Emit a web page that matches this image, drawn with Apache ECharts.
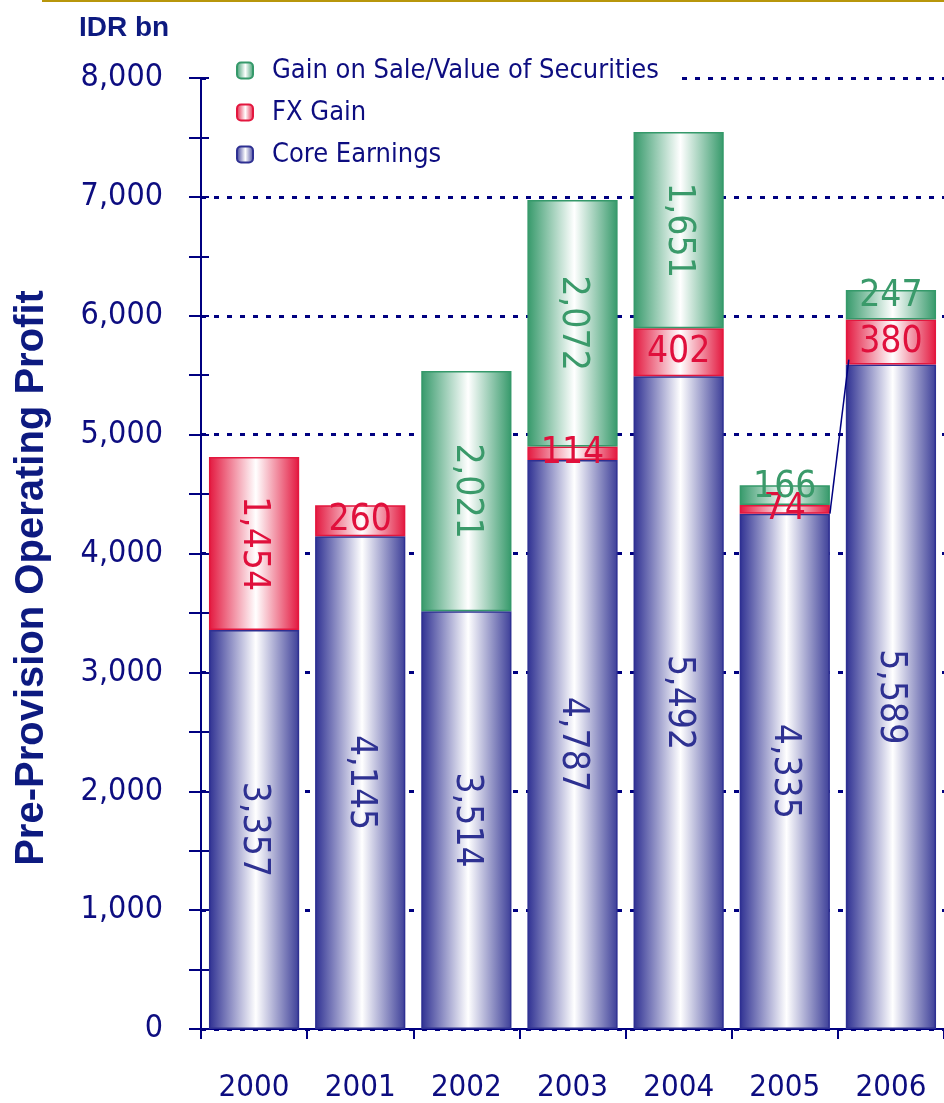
<!DOCTYPE html>
<html>
<head>
<meta charset="utf-8">
<script src="https://cdn.jsdelivr.net/npm/echarts@6/dist/echarts.min.js"></script>
<style>
html,body{margin:0;padding:0;background:#fff;}
#chart{width:944px;height:1103px;}
</style>
</head>
<body>
<div id="chart"></div>
<script>
var categories = ['2000', '2001', '2002', '2003', '2004', '2005', '2006'];
var coreEarnings = [3357, 4145, 3514, 4787, 5492, 4335, 5589];
var fxGain = [1454, 260, null, 114, 402, 74, 380];
var securitiesGain = [null, null, 2021, 2072, 1651, 166, 247];
var yTicks = [0, 1000, 2000, 3000, 4000, 5000, 6000, 7000, 8000];
var connector = [['2005', 4335], ['2006', 5589]];

var FONT = '"DejaVu Sans Condensed", "DejaVu Sans", sans-serif';
var NAVY = '#0d0d80';

function grad(edgeL, edgeR) {
  return {
    type: 'linear', x: 0, y: 0, x2: 1, y2: 0,
    colorStops: [
      {offset: 0, color: edgeL},
      {offset: 0.52, color: '#ffffff'},
      {offset: 1, color: edgeR}
    ]
  };
}

var seriesDefs = [
  {name: 'Core Earnings', data: coreEarnings, solid: '#2e3092', fill: grad('#2e3092', '#3c3e98'), labelColor: '#2e3192'},
  {name: 'FX Gain', data: fxGain, solid: '#e3173e', fill: grad('#e3173e', '#e3173e'), labelColor: '#e0103c'},
  {name: 'Gain on Sale/Value of Securities', data: securitiesGain, solid: '#35996a', fill: grad('#35996a', '#35996a'), labelColor: '#3a9a6a'}
];

function fmt(v) { return String(v).replace(/\B(?=(\d{3})+(?!\d))/g, ','); }

var series = seriesDefs.map(function (d, si) {
  return {
    name: d.name,
    type: 'bar',
    stack: 'total',
    barCategoryGap: '15%',
    yAxisIndex: 0,
    z: 3,
    itemStyle: {color: d.fill, borderColor: d.solid, borderWidth: 1.5},
    data: d.data.map(function (v) {
      if (v == null) return null;
      var small = v < 500;
      return {
        value: v,
        label: {
          rotate: small ? 0 : -90,
          offset: (small && si === 2) ? [0, -8] : [0, 0]
        }
      };
    }),
    label: {
      show: true,
      position: 'inside',
      color: d.labelColor,
      fontFamily: FONT,
      fontSize: 37,
      formatter: function (p) { return fmt(p.value); }
    },
    emphasis: {disabled: true}
  };
});

var c0 = categories.indexOf(connector[0][0]);
var c1 = categories.indexOf(connector[1][0]);
series.push({
  type: 'custom',
  name: 'connector',
  yAxisIndex: 0,
  silent: true,
  z: 5,
  data: [[c0, connector[0][1], c1, connector[1][1]]],
  renderItem: function (params, api) {
    var band = api.size([1, 0])[0];
    var half = band * 0.85 / 2;
    var p1 = api.coord([api.value(0), api.value(1)]);
    var p2 = api.coord([api.value(2), api.value(3)]);
    return {
      type: 'line',
      shape: {x1: p1[0] + half, y1: p1[1], x2: p2[0] - half + 3, y2: p2[1] - 5},
      style: {stroke: '#000080', lineWidth: 1.5}
    };
  },
  encode: {x: 0, y: 1}
});

var chart = echarts.init(document.getElementById('chart'));
chart.setOption({
  animation: false,
  backgroundColor: '#ffffff',
  grid: {left: 201, right: 0, top: 78, bottom: 72, containLabel: false},
  legend: {
    orient: 'vertical',
    left: 209,
    top: 49,
    z: 1,
    padding: [8, 20, 8, 27],
    backgroundColor: '#ffffff',
    itemWidth: 16,
    itemHeight: 16,
    itemGap: 15,
    data: ['Gain on Sale/Value of Securities', 'FX Gain', 'Core Earnings'],
    textStyle: {color: NAVY, fontFamily: FONT, fontSize: 27, lineHeight: 27, padding: [0, 0, 0, 14]},
    selectedMode: false
  },
  xAxis: {
    type: 'category',
    data: categories,
    axisLine: {lineStyle: {color: '#000080', width: 2}},
    axisTick: {show: true, length: 10, lineStyle: {color: '#000080', width: 2}},
    axisLabel: {color: NAVY, fontFamily: FONT, fontSize: 31, margin: 43},
    splitLine: {show: false}
  },
  yAxis: [
    {
      type: 'value', min: 0, max: 8000, interval: 1000,
      axisLine: {show: true, lineStyle: {color: '#000080', width: 2}},
      axisTick: {show: false},
      axisLabel: {color: NAVY, fontFamily: FONT, fontSize: 32, margin: 38,
        formatter: function (v) { return yTicks.indexOf(v) >= 0 ? fmt(v) : ''; }},
      splitLine: {show: true, lineStyle: {color: '#000080', width: 3, type: [5, 8]}}
    },
    {
      type: 'value', min: 0, max: 8000, interval: 500, position: 'left',
      axisLine: {show: false},
      axisTick: {show: true, inside: false, length: 12, lineStyle: {color: '#000080', width: 2}},
      axisLabel: {show: false},
      splitLine: {show: false}
    },
    {
      type: 'value', min: 0, max: 8000, interval: 500, position: 'left',
      axisLine: {show: false},
      axisTick: {show: true, inside: true, length: 8, lineStyle: {color: '#000080', width: 2}},
      axisLabel: {show: false},
      splitLine: {show: false}
    }
  ],
  graphic: [
    {type: 'line', shape: {x1: 42, y1: 1, x2: 944, y2: 1}, style: {stroke: '#b8960b', lineWidth: 2}},
    {type: 'text', x: 79, y: 28, style: {text: 'IDR bn', fill: '#0d1a80', font: 'bold 28px "Liberation Sans", Arial, sans-serif', textVerticalAlign: 'middle', textAlign: 'left'}},
    {type: 'text', x: 32, y: 578, rotation: Math.PI / 2, style: {text: 'Pre-Provision Operating Profit', fill: '#0d1a80', font: 'bold 40px "Liberation Sans", Arial, sans-serif', textVerticalAlign: 'middle', textAlign: 'center'}}
  ],
  series: series
});
</script>
</body>
</html>
